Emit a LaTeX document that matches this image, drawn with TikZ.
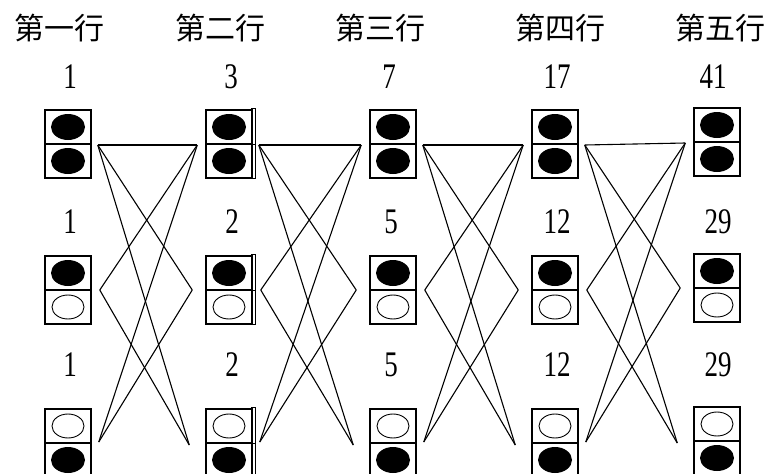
\documentclass[tikz,border=0pt]{standalone}
\usepackage{graphicx}
\usepackage{fontspec}
\setmainfont{Liberation Serif}
\newfontfamily\cjkfont{Noto Sans CJK TC}
\usetikzlibrary{calc}
\newcommand\rowtitle[1]{{\cjkfont\fontsize{30}{30}\selectfont #1}}
\newcommand\countnum[1]{\scalebox{0.75}[1]{\fontsize{36}{36}\selectfont #1}}
\begin{document}
\begin{tikzpicture}[x=1pt,y=-1pt,
  lamp/.style={draw, line width=1.5pt, minimum width=46pt, minimum height=68pt, inner sep=0pt},
  wire/.style={line width=1.1pt},
  title/.style={inner sep=0pt},
  count/.style={inner sep=0pt},
  off/.style={draw=black, line width=0.9pt}]
\useasboundingbox (0,0) rectangle (769,474);
\clip (0,0) rectangle (769,474);

% column centres and row centres of the two-cell boxes
\def\colx{{68,229,393,555,717}}
\def\coly{{0,0,0,0,-2}}
\def\rowy{{144,290,443}}

% boxes
\foreach \c in {1,...,5}{
  \foreach \r in {1,2,3}{
    \pgfmathsetmacro\bx{\colx[\c-1]}
    \pgfmathsetmacro\by{\rowy[\r-1]+\coly[\c-1]}
    \node[lamp] (b\c\r) at (\bx,\by) {};
    \draw[line width=1.5pt] (b\c\r.west) -- (b\c\r.east);
  }
  % top row: both lit
  \fill ($(b\c1.center)+(0,-17)$) ellipse [x radius=17pt, y radius=13pt];
  \fill ($(b\c1.center)+(0,17)$) ellipse [x radius=17pt, y radius=13pt];
  % middle row: upper lit, lower dark
  \fill ($(b\c2.center)+(0,-17)$) ellipse [x radius=17pt, y radius=13pt];
  \draw[off] ($(b\c2.center)+(0,17)$) ellipse [x radius=16pt, y radius=12pt];
  % bottom row: upper dark, lower lit
  \draw[off] ($(b\c3.center)+(0,-17)$) ellipse [x radius=16pt, y radius=12pt];
  \fill ($(b\c3.center)+(0,17)$) ellipse [x radius=17pt, y radius=13pt];
}

% side brackets of the second column
\foreach \r in {1,2,3}{
  \draw[line width=0.9pt]
    ($(b2\r.north east)+(-2,-1)$) -- ($(b2\r.north east)+(3,-1)$)
    -- ($(b2\r.south east)+(3,0)$) -- ($(b2\r.south east)+(-2,0)$);
  \draw[line width=0.9pt] ($(b2\r.east)+(-1,0)$) -- ($(b2\r.east)+(3,0)$);
}

% connector end points between neighbouring columns
\foreach \g [evaluate=\g as \h using int(\g+1)] in {1,...,4}{
  \coordinate (TL\g) at ($(b\g1.east)+(6,1)$);
  \coordinate (ML\g) at ($(b\g2.east)+(8,0)$);
  \coordinate (BL\g) at ($(b\g3.east)+(7,-1)$);
  \coordinate (TR\g) at ($(b\h1.west)+(-8,1)$);
  \coordinate (MR\g) at ($(b\h2.west)+(-13,0)$);
  \coordinate (BR\g) at ($(b\h3.west)+(-16,2)$);
  \draw[wire] (TL\g) -- (TR\g);
  \draw[wire] (TL\g) -- (MR\g);
  \draw[wire] (TL\g) -- (BR\g);
  \draw[wire] (ML\g) -- (TR\g);
  \draw[wire] (ML\g) -- (BR\g);
  \draw[wire] (BL\g) -- (TR\g);
  \draw[wire] (BL\g) -- (MR\g);
}

% row titles
\node[title] (t1) at (60,28) {\rowtitle{第一行}};
\node[title] (t2) at (220,28) {\rowtitle{第二行}};
\node[title] (t3) at (380,28) {\rowtitle{第三行}};
\node[title] (t4) at (560,28) {\rowtitle{第四行}};
\node[title] (t5) at (720,28) {\rowtitle{第五行}};

% counts for each kind of box
\node[count] (n11) at (70,77) {\countnum{1}};
\node[count] (n21) at (231,77) {\countnum{3}};
\node[count] (n31) at (389,77) {\countnum{7}};
\node[count] (n41) at (557,77) {\countnum{17}};
\node[count] (n51) at (713,77) {\countnum{41}};

\node[count] (n12) at (70,222) {\countnum{1}};
\node[count] (n22) at (232,222) {\countnum{2}};
\node[count] (n32) at (391,222) {\countnum{5}};
\node[count] (n42) at (557,222) {\countnum{12}};
\node[count] (n52) at (718,222) {\countnum{29}};

\node[count] (n13) at (70,365) {\countnum{1}};
\node[count] (n23) at (232,365) {\countnum{2}};
\node[count] (n33) at (391,365) {\countnum{5}};
\node[count] (n43) at (557,365) {\countnum{12}};
\node[count] (n53) at (718,365) {\countnum{29}};
\end{tikzpicture}
\end{document}
